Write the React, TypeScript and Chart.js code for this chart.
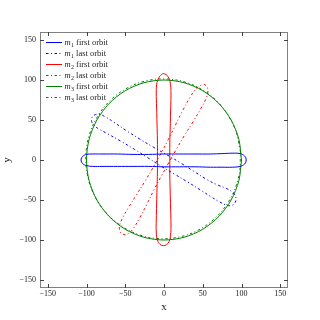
import React, { useEffect, useRef } from "react";
import { Chart, registerables } from "chart.js";

Chart.register(...registerables);

// ---- tick values ----
const X_TICKS = [-150, -100, -50, 0, 50, 100, 150];
const Y_TICKS = [-150, -100, -50, 0, 50, 100, 150];

// ---- series labels ----
const MASS_INDEX = ["1", "1", "2", "2", "3", "3"];
const ORBIT_KIND = ["first orbit", "last orbit", "first orbit", "last orbit", "first orbit", "last orbit"];

// ---- m1 first orbit ----
const M1_FIRST_X = [0, 20, 40, 60, 75, 88, 98, 104, 106, 104, 98, 88, 75, 60, 40, 20, 0, -20, -40, -60, -80, -92, -100, -105, -107, -105, -100, -92, -80, -60, -40, -20, 0];
const M1_FIRST_Y = [7.5, 7.5, 7.5, 7.5, 8, 8.5, 8, 5, 0, -5, -8, -9, -9, -9, -8.5, -8.5, -8.5, -8, -8, -8, -8, -8, -7, -4.5, 0, 4.5, 7, 7.5, 7.5, 7.5, 7, 7, 7.5];

// ---- m1 last orbit ----
const M1_LAST_X = [3.8, 21.1, 38.1, 55.2, 68.7, 81.0, 89.4, 92.8, 91.8, 87.3, 80.6, 71.5, 60.2, 47.5, 30.4, 13.1, -4.3, -21.3, -38.4, -55.7, -73.3, -83.9, -90.4, -93.4, -92.7, -88.4, -82.6, -75.2, -65.0, -48.2, -31.1, -13.8, 3.8];
const M1_LAST_Y = [6.5, -3.5, -13.9, -24.4, -31.0, -35.8, -41.2, -47.2, -53.0, -56.8, -56.4, -52.2, -45.7, -37.8, -27.4, -17.4, -7.4, 3.1, 13.5, 23.5, 33.1, 38.6, 43.5, 48.2, 53.5, 56.8, 56.9, 53.8, 47.4, 36.5, 26.1, 16.1, 6.5];

// ---- m2 first orbit ----
const M2_FIRST_X = [7.5, 7.5, 8, 8.5, 9, 8.5, 6.5, 3, -1, -5, -8.5, -10, -10, -9.5, -9, -8.5, -8.5, -8.5, -9, -9.5, -10, -9, -6, -3, -1, 3, 6.5, 8.5, 9, 8.5, 8, 7.5, 7.5];
const M2_FIRST_Y = [0, -20, -40, -60, -80, -94, -102, -106, -107, -105.5, -100, -90, -75, -55, -35, -15, 5, 25, 45, 65, 85, 97, 104, 107, 108, 106.5, 102, 94, 80, 60, 40, 20, 0];

// ---- m2 last orbit ----
const M2_LAST_X = [6.1, -3.9, -13.5, -22.6, -32.2, -39.6, -45.4, -50.4, -54.4, -57.1, -57.4, -53.7, -46.2, -35.3, -24.4, -14.0, -4.0, 5.6, 14.7, 23.8, 33.8, 40.7, 46.8, 50.9, 53.1, 55.9, 56.6, 54.4, 47.8, 37.4, 26.5, 16.1, 6.1];
const M2_LAST_Y = [-3.5, -20.8, -38.4, -56.2, -73.8, -85.7, -91.6, -93.3, -92.2, -88.9, -82.4, -72.9, -60.0, -43.1, -26.3, -9.2, 8.1, 25.7, 43.5, 61.3, 78.6, 88.5, 93.1, 94.2, 94.0, 90.7, 85.1, 77.2, 64.8, 47.7, 30.9, 13.8, -3.5];

// ---- m3 first orbit ----
const M3_FIRST_X = [100, 96.6, 86.6, 70.7, 50, 25.9, 0, -25.9, -50, -70.7, -86.6, -96.6, -100, -96.6, -86.6, -70.7, -50, -25.9, 0, 25.9, 50, 70.7, 86.6, 96.6, 100];
const M3_FIRST_Y = [0, 25.9, 50, 70.7, 86.6, 96.6, 100, 96.6, 86.6, 70.7, 50, 25.9, 0, -25.9, -50, -70.7, -86.6, -96.6, -100, -96.6, -86.6, -70.7, -50, -25.9, 0];

// ---- m3 last orbit ----
const M3_LAST_X = [98.6, 93.0, 80.9, 63.3, 41.3, 16.4, -9.7, -35.2, -58.4, -77.6, -91.6, -99.5, -100.6, -95.0, -82.9, -65.3, -43.3, -18.4, 7.7, 33.2, 56.4, 75.6, 89.6, 97.5, 98.6];
const M3_LAST_Y = [10.2, 35.7, 58.9, 78.1, 92.1, 100.0, 101.1, 95.5, 83.4, 65.8, 43.8, 18.9, -7.2, -32.7, -55.9, -75.1, -89.1, -97.0, -98.1, -92.5, -80.4, -62.8, -40.8, -15.9, 10.2];

const BLUE = "#0000ff";
const RED = "#ff0000";
const GREEN = "#008000";
const FRAME = "#808080";
const TEXT = "#222222";
const SERIF = "'Liberation Serif', serif";
const DASH_DOT = [2.5, 2.5, 1, 2.5];

function toPoints(xs: number[], ys: number[]) {
  return xs.map((x, i) => ({ x, y: ys[i] }));
}

function fmt(v: number | string) {
  const n = Number(v);
  return n < 0 ? "\u2212" + Math.abs(n) : String(n);
}

const framePlugin = {
  id: "frameTicks",
  afterDraw(chart: any) {
    const { ctx, chartArea } = chart;
    const { left, right, top, bottom } = chartArea;
    const xs = chart.scales.x;
    const ys = chart.scales.y;
    ctx.save();
    ctx.strokeStyle = FRAME;
    ctx.lineWidth = 1;
    ctx.strokeRect(left + 0.5, top + 0.5, right - left - 1, bottom - top - 1);
    ctx.strokeStyle = "#444444";
    ctx.beginPath();
    const L = 4;
    X_TICKS.forEach((v) => {
      const p = Math.round(xs.getPixelForValue(v)) + 0.5;
      ctx.moveTo(p, bottom);
      ctx.lineTo(p, bottom - L);
      ctx.moveTo(p, top);
      ctx.lineTo(p, top + L);
    });
    Y_TICKS.forEach((v) => {
      const p = Math.round(ys.getPixelForValue(v)) + 0.5;
      ctx.moveTo(left, p);
      ctx.lineTo(left + L, p);
      ctx.moveTo(right, p);
      ctx.lineTo(right - L, p);
    });
    ctx.stroke();
    ctx.restore();
  },
};

const legendPlugin = {
  id: "mathLegend",
  afterDraw(chart: any) {
    const { ctx, chartArea } = chart;
    const x0 = chartArea.left + 6;
    const y0 = chartArea.top + 10;
    const rowH = 11;
    ctx.save();
    chart.data.datasets.forEach((ds: any, i: number) => {
      const y = y0 + i * rowH;
      ctx.strokeStyle = ds.borderColor;
      ctx.lineWidth = 1;
      ctx.setLineDash(ds.borderDash || []);
      ctx.beginPath();
      ctx.moveTo(x0, y + 0.5);
      ctx.lineTo(x0 + 16, y + 0.5);
      ctx.stroke();
      ctx.setLineDash([]);
      ctx.fillStyle = TEXT;
      ctx.textBaseline = "alphabetic";
      let tx = x0 + 18.5;
      const base = y + 3;
      ctx.font = "italic 8.5px " + SERIF;
      ctx.fillText("m", tx, base);
      tx += ctx.measureText("m").width + 0.3;
      ctx.font = "6px " + SERIF;
      ctx.fillText(MASS_INDEX[i], tx, base + 1.5);
      tx += ctx.measureText(MASS_INDEX[i]).width;
      ctx.font = "8.5px " + SERIF;
      ctx.fillText(" " + ORBIT_KIND[i], tx, base);
    });
    ctx.restore();
  },
};

export default function App() {
  const ref = useRef<HTMLCanvasElement>(null);
  useEffect(() => {
    const canvas = ref.current;
    if (!canvas) return;
    const common = { showLine: true, pointRadius: 0, borderWidth: 1, tension: 0.4, fill: false };
    const datasets: any[] = [
      { ...common, label: "m1 first orbit", data: toPoints(M1_FIRST_X, M1_FIRST_Y), borderColor: BLUE },
      { ...common, label: "m1 last orbit", data: toPoints(M1_LAST_X, M1_LAST_Y), borderColor: BLUE, borderDash: DASH_DOT },
      { ...common, label: "m2 first orbit", data: toPoints(M2_FIRST_X, M2_FIRST_Y), borderColor: RED },
      { ...common, label: "m2 last orbit", data: toPoints(M2_LAST_X, M2_LAST_Y), borderColor: RED, borderDash: DASH_DOT },
      { ...common, label: "m3 first orbit", data: toPoints(M3_FIRST_X, M3_FIRST_Y), borderColor: GREEN, tension: 0.3 },
      { ...common, label: "m3 last orbit", data: toPoints(M3_LAST_X, M3_LAST_Y), borderColor: GREEN, borderDash: DASH_DOT, tension: 0.3 },
    ];
    const tickFont = { family: SERIF, size: 8 };
    const titleFont = { family: SERIF, size: 11 };
    const chart = new Chart(canvas, {
      type: "scatter",
      data: { datasets },
      options: {
        animation: false,
        responsive: false,
        devicePixelRatio: 1,
        layout: { padding: { top: 32, right: 32, left: 0, bottom: 0 } },
        plugins: { legend: { display: false }, tooltip: { enabled: false } },
        scales: {
          x: {
            type: "linear",
            position: "bottom",
            min: -160,
            max: 160,
            afterFit: (s: any) => { s.height = 32; },
            afterBuildTicks: (s: any) => { s.ticks = X_TICKS.map((v) => ({ value: v })); },
            grid: { display: false, drawTicks: false },
            border: { display: false },
            ticks: { font: tickFont, color: TEXT, padding: 1, maxRotation: 0, autoSkip: false, callback: fmt },
            title: { display: true, text: "x", font: titleFont, color: TEXT, padding: { top: 0, bottom: 6 } },
          },
          y: {
            type: "linear",
            position: "left",
            min: -160,
            max: 160,
            afterFit: (s: any) => { s.width = 40; },
            afterBuildTicks: (s: any) => { s.ticks = Y_TICKS.map((v) => ({ value: v })); },
            grid: { display: false, drawTicks: false },
            border: { display: false },
            ticks: { font: tickFont, color: TEXT, padding: 4, autoSkip: false, callback: fmt },
            title: { display: true, text: "y", font: titleFont, color: TEXT, padding: { top: 1, bottom: 0 } },
          },
        },
      } as any,
      plugins: [framePlugin, legendPlugin],
    });
    return () => chart.destroy();
  }, []);
  return (
    <div style={{ position: "fixed", left: 0, top: 0, width: 320, height: 320, background: "#ffffff" }}>
      <canvas ref={ref} width={320} height={320} style={{ width: 320, height: 320, display: "block" }} />
    </div>
  );
}
